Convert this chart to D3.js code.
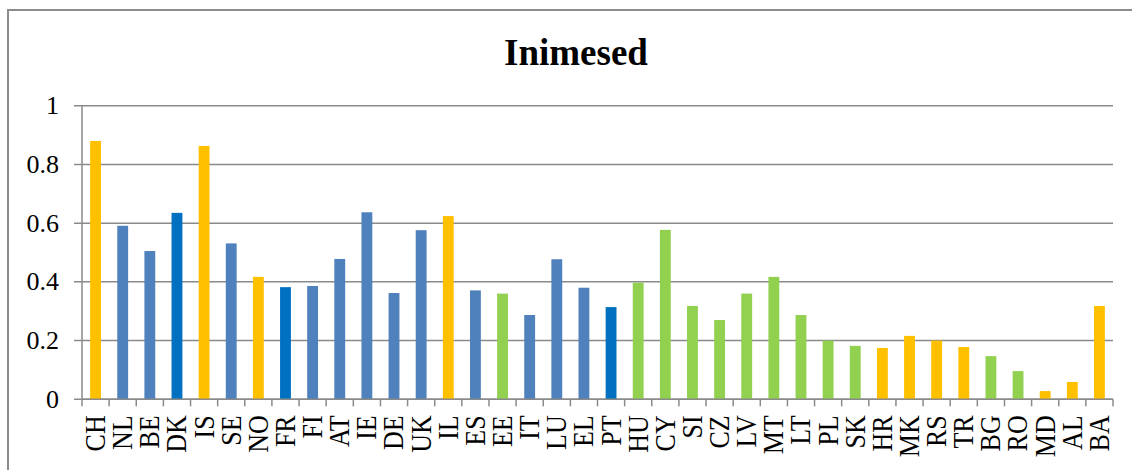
<!DOCTYPE html>
<html>
<head>
<meta charset="utf-8">
<script src="https://cdn.jsdelivr.net/npm/d3@7"></script>
<style>
  body { margin: 0; background: #fff; }
  svg { display: block; }
</style>
</head>
<body>
<script>
// country codes, in chart order
var countries = ["CH","NL","BE","DK","IS","SE","NO","FR","FI","AT","IE","DE","UK","IL","ES","EE","IT","LU","EL","PT",
                 "HU","CY","SI","CZ","LV","MT","LT","PL","SK","HR","MK","RS","TR","BG","RO","MD","AL","BA"];
var values = [0.880,0.591,0.505,0.635,0.863,0.531,0.417,0.382,0.386,0.478,0.637,0.362,0.576,0.624,0.371,0.360,0.287,0.477,0.380,0.314,
              0.397,0.577,0.318,0.270,0.360,0.417,0.287,0.200,0.182,0.175,0.216,0.200,0.178,0.147,0.096,0.028,0.059,0.318];
// group of each country (decides bar colour)
var groups = ["o","b","b","d","o","b","o","d","b","b","b","b","b","o","b","g","b","b","b","d",
              "g","g","g","g","g","g","g","g","g","o","o","o","o","g","g","o","o","o"];
var yTicks = [0, 0.2, 0.4, 0.6, 0.8, 1];
var yTickLabels = ["0","0.2","0.4","0.6","0.8","1"];
var title = "Inimesed";

var colors = {o: "#FFC000", b: "#4F81BD", d: "#0070C0", g: "#92D050"};

var width = 1132, height = 470;
var margin = {top: 105.7, right: 19, bottom: 70.7, left: 82};

var svg = d3.select("body").append("svg")
    .attr("width", width)
    .attr("height", height);

// chart frame
svg.append("path")
    .attr("d", "M8,480 L8,10 L1140,10")
    .attr("fill", "none")
    .attr("stroke", "#8c8c8c")
    .attr("stroke-width", 2);

var data = countries.map(function(c, i) { return {key: c, value: values[i], group: groups[i]}; });

var x = d3.scaleBand()
    .domain(countries)
    .range([margin.left, width - margin.right])
    .paddingInner(0.6)
    .paddingOuter(0.3);

var xSlot = d3.scaleBand()
    .domain(countries)
    .range([margin.left, width - margin.right]);

var y = d3.scaleLinear()
    .domain([0, 1])
    .range([height - margin.bottom, margin.top]);

// title
svg.append("text")
    .attr("x", 576)
    .attr("y", 65)
    .attr("text-anchor", "middle")
    .style("font-family", "'Liberation Serif', 'Times New Roman', serif")
    .style("font-weight", "bold")
    .style("font-size", "37px")
    .text(title);

// gridlines + y ticks
svg.append("g")
    .selectAll("line")
    .data(yTicks)
    .enter().append("line")
    .attr("x1", margin.left - 8)
    .attr("x2", width - margin.right)
    .attr("y1", function(d) { return y(d); })
    .attr("y2", function(d) { return y(d); })
    .attr("stroke", "#8a8a8a")
    .attr("stroke-width", 1.5);

svg.append("g")
    .selectAll("text")
    .data(yTicks)
    .enter().append("text")
    .attr("x", margin.left - 23)
    .attr("y", function(d) { return y(d); })
    .attr("dy", "0.33em")
    .attr("text-anchor", "end")
    .style("font-family", "'Liberation Serif', 'Times New Roman', serif")
    .style("font-size", "26px")
    .text(function(d, i) { return yTickLabels[i]; });

// y axis line
svg.append("line")
    .attr("x1", margin.left).attr("x2", margin.left)
    .attr("y1", y(1)).attr("y2", y(0))
    .attr("stroke", "#8a8a8a")
    .attr("stroke-width", 1.5);

// bars
svg.append("g")
    .selectAll("rect")
    .data(data)
    .enter().append("rect")
    .attr("x", function(d) { return x(d.key); })
    .attr("y", function(d) { return y(d.value); })
    .attr("width", x.bandwidth())
    .attr("height", function(d) { return y(0) - y(d.value); })
    .attr("fill", function(d) { return colors[d.group]; });

// x axis: ticks sit between categories
var tickPos = countries.map(function(c) { return xSlot(c); }).concat([width - margin.right]);
svg.append("g")
    .selectAll("line")
    .data(tickPos)
    .enter().append("line")
    .attr("x1", function(d) { return d; })
    .attr("x2", function(d) { return d; })
    .attr("y1", y(0))
    .attr("y2", y(0) + 7)
    .attr("stroke", "#8a8a8a")
    .attr("stroke-width", 1.5);

svg.append("line")
    .attr("x1", margin.left).attr("x2", width - margin.right)
    .attr("y1", y(0)).attr("y2", y(0))
    .attr("stroke", "#8a8a8a")
    .attr("stroke-width", 1.5);

svg.append("g")
    .selectAll("text")
    .data(countries)
    .enter().append("text")
    .attr("transform", function(d) {
        return "translate(" + (xSlot(d) + xSlot.bandwidth() / 2) + "," + (y(0) + 16) + ") scale(1.1,1) rotate(-90)";
    })
    .attr("dy", "0.33em")
    .attr("text-anchor", "end")
    .style("font-family", "'Liberation Serif', 'Times New Roman', serif")
    .style("font-size", "26px")
    .text(function(d) { return d; });
</script>
</body>
</html>
